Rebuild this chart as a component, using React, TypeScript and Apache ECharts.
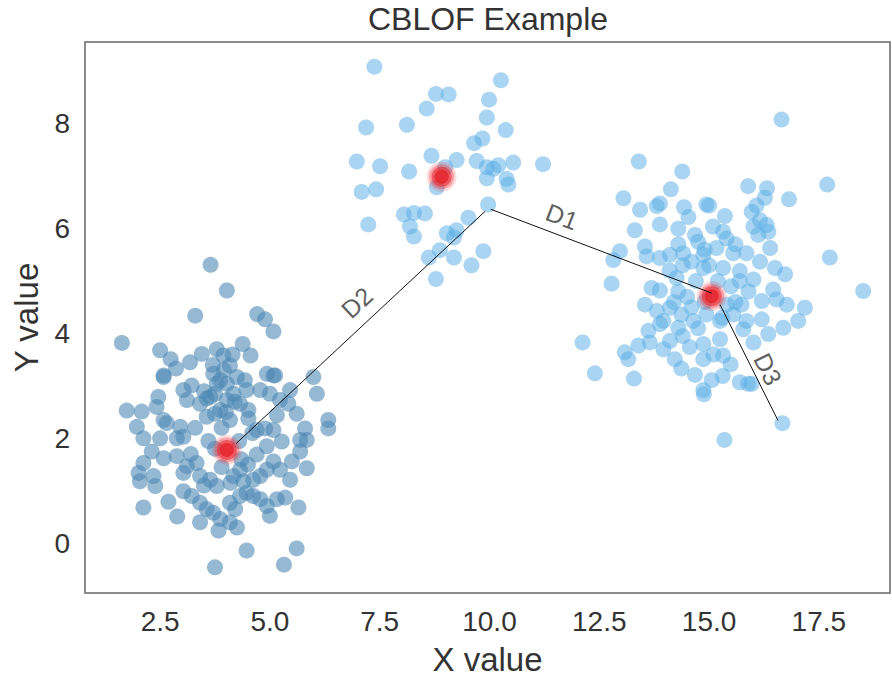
import React, { useEffect, useRef } from "react";
import * as echarts from "echarts";

const TITLE = "CBLOF Example";
const X_NAME = "X value";
const Y_NAME = "Y value";
const X_TICKS = [2.5, 5, 7.5, 10, 12.5, 15, 17.5];
const Y_TICKS = [0, 2, 4, 6, 8];
const X_RANGE = [0.79, 19.12];
const Y_RANGE = [-0.95, 9.56];

// lower-left cluster (steel blue)
const clusterLowerLeft: number[][] = [
  [3.65, 5.31], [4.02, 4.82], [3.3, 4.34], [4.71, 4.37], [4.89, 4.27], [5.08, 4.04], [1.63, 3.82],
  [2.5, 3.68], [2.74, 3.51], [2.86, 3.33], [3.18, 3.45], [3.45, 3.61], [3.79, 3.7], [4.38, 3.8],
  [4.56, 3.58], [3.94, 3.58], [4.09, 3.39], [2.58, 3.17], [2.58, 3.2], [3.71, 3.23], [3.87, 3.11],
  [4.02, 3.04], [4.25, 3.17], [4.43, 3.11], [4.93, 3.23], [5.08, 3.2], [5.12, 3.2], [5.99, 3.17],
  [6.07, 2.85], [5.46, 2.92], [3.22, 3.01], [3.03, 2.92], [3.11, 2.73], [2.46, 2.79], [2.42, 2.6],
  [1.74, 2.53], [2.08, 2.51], [3.56, 2.76], [3.75, 2.85], [4.17, 2.85], [4.47, 2.92], [4.78, 2.92],
  [5.0, 2.85], [5.23, 2.73], [5.42, 2.66], [2.58, 2.35], [2.65, 2.29], [2.96, 2.22], [1.97, 2.22],
  [2.12, 2.0], [2.5, 2.0], [2.88, 2.0], [3.03, 2.03], [3.56, 2.41], [3.75, 2.47], [4.09, 2.35],
  [4.51, 2.54], [4.51, 2.38], [5.16, 2.44], [5.61, 2.47], [5.8, 2.19], [6.33, 2.35], [6.33, 2.19],
  [4.7, 2.16], [4.89, 2.19], [5.08, 2.16], [5.27, 1.94], [5.69, 1.97], [5.84, 1.97],
  [3.79, 3.04], [3.64, 2.79], [4.02, 2.73], [4.32, 2.66], [3.41, 2.66], [3.87, 2.54],
  [2.01, 1.34], [2.04, 1.18], [2.35, 1.28], [2.39, 1.09], [2.12, 1.53], [2.31, 1.75], [2.58, 1.62],
  [2.88, 1.66], [3.03, 1.34], [3.11, 1.47], [3.33, 1.53], [3.41, 1.28], [3.64, 1.21], [3.79, 1.09],
  [3.03, 0.99], [3.22, 0.9], [3.41, 0.77], [3.56, 0.65], [3.71, 0.58], [3.41, 0.4], [3.87, 0.46],
  [3.83, 0.24], [4.09, 0.4], [4.25, 0.3], [4.21, 0.65], [4.09, 0.77], [4.32, 0.9], [4.47, 0.96],
  [4.62, 0.9], [4.78, 0.84], [4.93, 0.71], [5.0, 0.52], [5.16, 0.84], [5.35, 0.87], [5.65, 0.68],
  [4.62, 1.21], [4.78, 1.28], [4.93, 1.4], [5.08, 1.56], [5.23, 1.4], [5.46, 1.21], [5.5, 1.56],
  [5.69, 1.75], [5.84, 1.43], [4.17, 1.28], [4.32, 1.4], [4.4, 1.18], [2.12, 0.68], [2.69, 0.79],
  [2.89, 0.51], [4.47, -0.14], [5.61, -0.1], [3.75, -0.46], [5.32, -0.41], [4.7, 1.69], [4.93, 1.85],
  [3.6, 1.95], [3.75, 1.8], [4.3, 1.95], [4.35, 1.6], [3.9, 1.45], [4.1, 1.15], [3.5, 1.1],
  [4.5, 1.5], [3.3, 2.2], [3.9, 2.2], [4.6, 2.1], [3.2, 1.7], [4.0, 2.5], [3.5, 2.9], [4.2, 2.7],
  [3.7, 3.4], [3.95, 3.3], [4.15, 3.6],
];

// upper-middle cluster (light blue)
const clusterTop: number[][] = [
  [7.38, 9.09], [10.26, 8.83], [8.78, 8.57], [9.07, 8.56], [9.99, 8.46], [8.57, 8.29], [9.94, 8.12],
  [7.19, 7.93], [8.12, 7.98], [10.37, 7.88], [9.84, 7.72], [9.65, 7.63], [6.98, 7.28], [7.51, 7.19],
  [8.68, 7.39], [9.25, 7.31], [9.71, 7.29], [10.54, 7.26], [11.22, 7.23], [8.17, 7.09], [8.8, 6.79],
  [8.99, 7.17], [9.94, 7.17], [10.09, 7.14], [10.2, 7.21], [9.94, 6.96], [10.39, 6.95], [10.43, 6.84],
  [7.09, 6.7], [7.42, 6.75], [9.97, 6.46], [9.52, 6.21], [8.05, 6.27], [8.28, 6.3], [8.53, 6.29],
  [8.19, 6.04], [8.28, 5.85], [7.24, 6.08], [9.03, 5.91], [9.25, 5.97], [9.19, 5.83], [8.87, 5.59],
  [8.62, 5.45], [9.19, 5.45], [9.86, 5.57], [9.59, 5.3], [8.78, 5.04],
];

// right cluster (light blue)
const clusterRight: number[][] = [
  [16.65, 8.08], [13.4, 7.28], [14.39, 7.09], [14.13, 6.75], [13.05, 6.58], [13.43, 6.36], [13.81, 6.43],
  [13.88, 6.48], [14.43, 6.41], [14.53, 6.22], [14.94, 6.46], [15.0, 6.44], [15.36, 6.24], [15.89, 6.81],
  [16.32, 6.77], [16.27, 6.59], [16.08, 6.44], [15.97, 6.32], [16.82, 6.56], [17.69, 6.84], [13.88, 6.08],
  [13.31, 5.97], [14.3, 6.0], [14.68, 5.88], [14.75, 5.75], [15.09, 6.04], [15.32, 5.94], [15.4, 5.81],
  [16.16, 6.16], [16.31, 6.07], [16.01, 6.04], [16.35, 5.94], [16.12, 5.88], [16.39, 5.63], [12.97, 5.57],
  [12.82, 5.4], [13.54, 5.66], [13.58, 5.47], [13.88, 5.44], [14.11, 5.5], [14.41, 5.53], [14.6, 5.37],
  [14.87, 5.5], [15.17, 5.63], [15.55, 5.53], [15.85, 5.53], [16.16, 5.37], [16.5, 5.25], [16.73, 5.13],
  [17.75, 5.45], [12.78, 4.95], [13.69, 4.87], [13.88, 4.82], [14.26, 5.06], [14.87, 5.25], [15.32, 5.25],
  [15.7, 5.19], [16.01, 5.03], [16.46, 4.84], [18.51, 4.81],
  [13.54, 4.55], [13.81, 4.43], [14.11, 4.49], [13.96, 4.24], [14.3, 4.11], [14.64, 4.24], [14.94, 4.36],
  [15.25, 4.24], [15.55, 4.36], [15.74, 4.55], [15.85, 4.24], [16.2, 4.62], [16.54, 4.65], [16.77, 4.55],
  [17.18, 4.49], [16.2, 4.27], [16.69, 4.11], [17.03, 4.24], [16.35, 3.99], [16.01, 3.83], [15.78, 4.08],
  [15.25, 3.89], [14.87, 3.8], [14.56, 3.74], [14.11, 3.86], [13.62, 4.05], [13.65, 3.83], [13.39, 3.77],
  [13.08, 3.64], [13.16, 3.51], [13.96, 3.7], [14.22, 3.51], [14.37, 3.33], [14.68, 3.21], [14.87, 3.51],
  [15.32, 3.58], [15.49, 3.41], [15.31, 3.19], [15.06, 3.11], [14.87, 2.92], [14.88, 2.84], [15.7, 3.07],
  [15.89, 3.04], [15.97, 3.04], [12.12, 3.83], [12.4, 3.24], [13.29, 3.14], [16.67, 2.29], [15.35, 1.97],
  [13.88, 4.18], [14.37, 4.36],
  [14.5, 4.7], [14.7, 5.0], [14.3, 4.8], [15.5, 4.9], [15.6, 4.6], [14.6, 4.5], [15.2, 5.0], [14.1, 5.2],
  [15.9, 4.8], [14.9, 4.6], [15.4, 4.55], [14.4, 5.3], [15.0, 5.3], [15.7, 5.0], [14.2, 4.6], [15.3, 4.3],
  [14.75, 4.1], [14.4, 3.95], [15.1, 3.6], [14.9, 5.6], [15.6, 5.7], [14.3, 5.7],
];

const centroids: number[][] = [[4.02, 1.78], [8.91, 6.99], [15.06, 4.71]];

const segmentNames = ["D1", "D2", "D3"];
const segmentFrom: number[][] = [[10.03, 6.37], [4.23, 1.9], [15.25, 4.55]];
const segmentTo: number[][] = [[15.06, 4.77], [9.9, 6.33], [16.57, 2.34]];
const labelAt: number[][] = [[11.65, 6.23], [6.98, 4.59], [16.34, 3.32]];
const labelAngle = [-21, 43, -63.5];

const FONT = "'Liberation Sans', Arial, sans-serif";

export default function App() {
  const ref = useRef<HTMLDivElement>(null);
  useEffect(() => {
    if (!ref.current) return;
    const chart = echarts.init(ref.current, undefined, { renderer: "svg" });
    const lightStyle = { color: "#5aaee6", opacity: 0.52 };
    const series: any[] = [
      {
        type: "scatter", data: clusterLowerLeft, symbolSize: 16,
        itemStyle: { color: "#4a86b4", opacity: 0.58 }, z: 2,
      },
      { type: "scatter", data: clusterTop, symbolSize: 16, itemStyle: lightStyle, z: 2 },
      { type: "scatter", data: clusterRight, symbolSize: 16, itemStyle: lightStyle, z: 2 },
      { type: "scatter", data: centroids, symbolSize: 30, itemStyle: { color: "#f03a40", opacity: 0.18 }, z: 3 },
      { type: "scatter", data: centroids, symbolSize: 25, itemStyle: { color: "#ee3038", opacity: 0.35 }, z: 3 },
      { type: "scatter", data: centroids, symbolSize: 20, itemStyle: { color: "#ea2a33", opacity: 0.6 }, z: 3 },
      { type: "scatter", data: centroids, symbolSize: 14, itemStyle: { color: "#e5262e", opacity: 0.85 }, z: 3 },
    ];
    segmentNames.forEach((n, i) => {
      series.push({
        type: "line", name: n, data: [segmentFrom[i], segmentTo[i]], symbol: "none",
        lineStyle: { color: "#111", width: 1 }, z: 4, silent: true,
      });
    });
    series.push({
      type: "scatter", symbolSize: 0, z: 5, silent: true,
      data: segmentNames.map((n, i) => ({
        value: [labelAt[i][0], labelAt[i][1]], name: n,
        label: { rotate: labelAngle[i] },
      })),
      label: {
        show: true, position: "inside", formatter: (p: any) => p.name,
        fontSize: 25, color: "#333", fontFamily: FONT,
      },
    });
    chart.setOption({
      animation: false,
      backgroundColor: "#fff",
      grid: {
        left: 85, right: 2, top: 42, bottom: 83, show: true,
        borderColor: "#666", borderWidth: 1.5, backgroundColor: "transparent",
      },
      graphic: [
        {
          type: "text", x: 488, y: 19, z: 10,
          style: {
            text: TITLE, fontSize: 32, fill: "#333", fontFamily: FONT,
            textAlign: "center", textVerticalAlign: "middle",
          },
        },
      ],
      xAxis: {
        type: "value", min: X_RANGE[0], max: X_RANGE[1],
        name: X_NAME, nameLocation: "middle", nameGap: 50,
        nameTextStyle: { fontSize: 33, color: "#333", fontFamily: FONT },
        axisLine: { show: false }, axisTick: { show: false }, splitLine: { show: false },
        axisLabel: {
          customValues: X_TICKS, formatter: (v: number) => v.toFixed(1),
          fontSize: 28, color: "#333", fontFamily: FONT, margin: 14,
        },
      },
      yAxis: {
        type: "value", min: Y_RANGE[0], max: Y_RANGE[1],
        name: Y_NAME, nameLocation: "middle", nameGap: 42,
        nameTextStyle: { fontSize: 33, color: "#333", fontFamily: FONT },
        axisLine: { show: false }, axisTick: { show: false }, splitLine: { show: false },
        axisLabel: {
          customValues: Y_TICKS, formatter: (v: number) => String(v),
          fontSize: 28, color: "#333", fontFamily: FONT, margin: 15,
        },
      },
      series,
    });
    return () => chart.dispose();
  }, []);
  return (
    <div
      ref={ref}
      style={{ position: "fixed", left: 0, top: 0, width: 892, height: 681, background: "#fff" }}
    />
  );
}
